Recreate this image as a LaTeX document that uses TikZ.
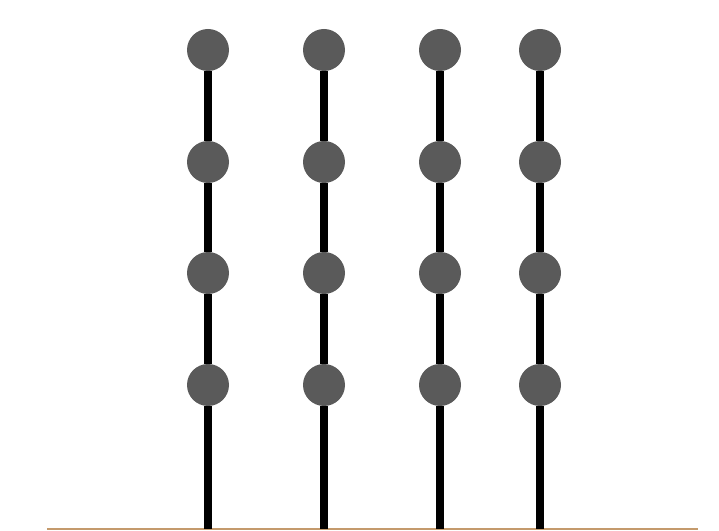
\documentclass[tikz,border=0pt]{standalone}
\usepackage{xcolor}
\usepackage{tikz}
\usetikzlibrary{positioning,calc}
\definecolor{beadgray}{HTML}{5A5A5A}
\definecolor{groundtan}{HTML}{C49A6C}

\begin{document}
\begin{tikzpicture}[x=0.5pt,y=0.5pt,
  bead/.style={circle,fill=beadgray,inner sep=0pt,minimum size=21pt},
  rod/.style={line width=4pt,black}]
  \useasboundingbox (0,0) rectangle (719,531);
  % ground
  \coordinate (gl) at (47,2);
  \coordinate (gr) at (698,2);
  \draw[groundtan,line width=1pt] (gl) -- (gr);
  % rods with beads
  \foreach \c/\x in {1/208,2/324,3/440,4/540}{
    \coordinate (g\c) at (\x,2);
    \foreach \r/\y in {1/481,2/369,3/258,4/146}{
      \node[bead] (b\c\r) at (\x,\y){};
    }
    \draw[rod] (b\c1) -- (b\c2);
    \draw[rod] (b\c2) -- (b\c3);
    \draw[rod] (b\c3) -- (b\c4);
    \draw[rod] (b\c4) -- (g\c);
  }
\end{tikzpicture}
\end{document}
